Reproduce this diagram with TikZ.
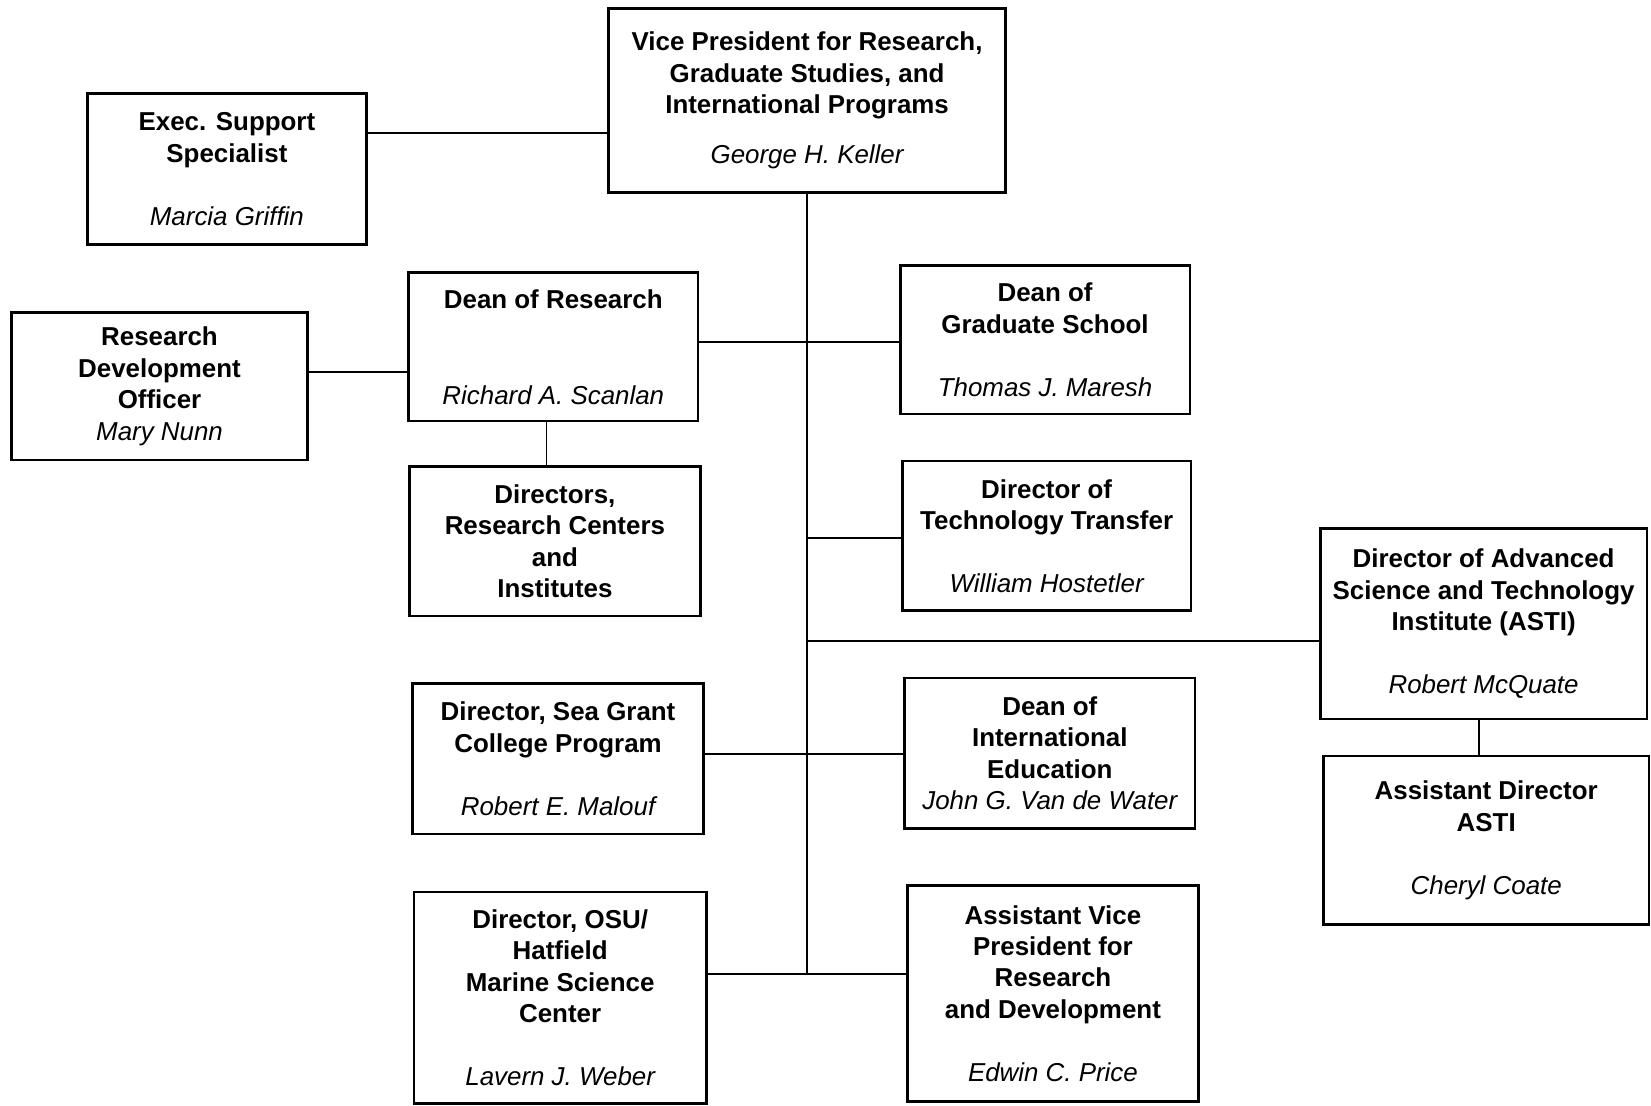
\documentclass[tikz,border=0pt]{standalone}
\usepackage{fontspec}
\setmainfont{Liberation Sans}
\newcommand{\who}[1]{{\mdseries\itshape #1}}
\tikzset{unit/.style={draw, line width=1.4pt, align=center, inner sep=0pt, font=\fontsize{14}{17}\selectfont\bfseries}}

\begin{document}
\begin{tikzpicture}[line width=1pt]
\useasboundingbox (0,0) rectangle (31.36,-21);
\node[unit, minimum width=7.54cm, minimum height=3.50cm] (vp) at (15.33,-1.91) {Vice President for Research,\\ Graduate Studies, and\\ International Programs\\[10pt] \who{George H. Keller}};
\node[unit, minimum width=5.30cm, minimum height=2.86cm] (exec) at (4.31,-3.21) {Exec. Support\\ Specialist\\[17pt] \who{Marcia Griffin}};
\node[unit, minimum width=5.50cm, minimum height=2.82cm] (dor) at (10.51,-6.59) {Dean of Research\\[35pt] \who{Richard A. Scanlan}};
\node[unit, minimum width=5.62cm, minimum height=2.80cm] (rdo) at (3.03,-7.34) {Research\\ Development\\ Officer\\ \who{Mary Nunn}};
\node[unit, minimum width=5.50cm, minimum height=2.82cm] (grad) at (19.85,-6.45) {Dean of\\ Graduate School\\[17pt] \who{Thomas J. Maresh}};
\node[unit, minimum width=5.52cm, minimum height=2.84cm] (dirs) at (10.54,-10.28) {Directors,\\ Research Centers\\ and\\ Institutes};
\node[unit, minimum width=5.48cm, minimum height=2.84cm] (tt) at (19.88,-10.18) {Director of\\ Technology Transfer\\[17pt] \who{William Hostetler}};
\node[unit, minimum width=6.20cm, minimum height=3.62cm] (asti) at (28.18,-11.85) {Director of Advanced\\ Science and Technology\\ Institute (ASTI)\\[17pt] \who{Robert McQuate}};
\node[unit, minimum width=6.18cm, minimum height=3.20cm] (aasti) at (28.23,-15.96) {Assistant Director\\ ASTI\\[17pt] \who{Cheryl Coate}};
\node[unit, minimum width=5.52cm, minimum height=2.86cm] (sea) at (10.60,-14.41) {Director, Sea Grant\\ College Program\\[17pt] \who{Robert E. Malouf}};
\node[unit, minimum width=5.52cm, minimum height=2.86cm] (intl) at (19.94,-14.31) {Dean of\\ International\\ Education\\ \who{John G. Van de Water}};
\node[unit, minimum width=5.56cm, minimum height=4.02cm] (osu) at (10.64,-18.95) {Director, OSU/\\ Hatfield\\ Marine Science\\ Center\\[17pt] \who{Lavern J. Weber}};
\node[unit, minimum width=5.52cm, minimum height=4.10cm] (avp) at (20.00,-18.87) {Assistant Vice\\ President for\\ Research\\ and Development\\[17pt] \who{Edwin C. Price}};
\coordinate (ev) at (0,-2.52);
\coordinate (rd) at (0,-7.06);
\coordinate (dg) at (15.33,-6.50);
\coordinate (tr) at (15.33,-10.22);
\coordinate (as) at (15.33,-12.18);
\coordinate (si) at (15.33,-14.32);
\coordinate (oa) at (15.33,-18.50);
\coordinate (dd) at (10.38,0);
\coordinate (aa) at (28.10,0);
\draw (exec.east |- ev) -- (vp.west |- ev);
\draw (vp.south) -- (oa);
\draw (rdo.east |- rd) -- (dor.west |- rd);
\draw (dor.east |- dg) -- (grad.west |- dg);
\draw (dor.south -| dd) -- (dirs.north -| dd);
\draw (tr) -- (tt.west |- tr);
\draw (as) -- (asti.west |- as);
\draw (asti.south -| aa) -- (aasti.north -| aa);
\draw (sea.east |- si) -- (intl.west |- si);
\draw (osu.east |- oa) -- (avp.west |- oa);
\end{tikzpicture}
\end{document}
